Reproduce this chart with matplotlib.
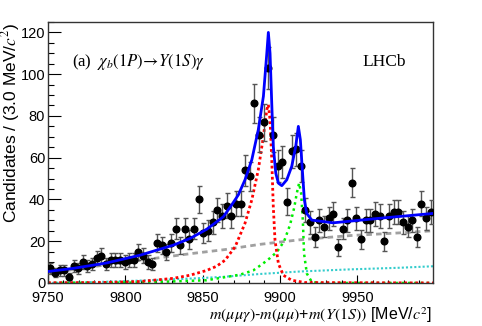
import numpy as np
import matplotlib
matplotlib.use("Agg")
import matplotlib.pyplot as plt
from matplotlib.ticker import MultipleLocator

plt.rcParams['mathtext.fontset'] = 'stix'

# ---------------- data ----------------
bin_width = 3.0
first_center = 9751.5
counts = [7, 5, 6, 6, 3, 8, 7, 10, 8, 9,
          12, 13, 9, 11, 11, 11, 10, 11, 11, 15,
          13, 10, 9, 19, 18, 15, 19, 26, 18, 26,
          21, 26, 40, 24, 25, 29, 35, 32, 37, 32,
          38, 38, 54, 51, 86, 71, 77, 103, 71, 56,
          58, 39, 63, 64, 56, 35, 29, 22, 30, 27,
          31, 33, 17, 26, 30, 48, 31, 21, 30, 30,
          33, 32, 20, 32, 34, 34, 29, 27, 30, 22,
          38, 31, 34]

total_m = [9750, 9766.4, 9788, 9809.5, 9831, 9841.8, 9852.6, 9863.4, 9868.8, 9873.1,
           9877.4, 9881.8, 9886, 9889.3, 9891.5, 9892.5, 9893.6, 9894.7, 9895.7, 9897.3,
           9899, 9901.2, 9904.4, 9907.6, 9910.2, 9911.9, 9913.2, 9914.5, 9915.8, 9917.3,
           9920.6, 9929.2, 9934.3, 9964.7, 9999]
total_y = [5.5, 7, 9.6, 13.3, 18.1, 21.3, 25.7, 31.7, 37.4, 42.2,
           49.4, 59, 73.4, 89.4, 110, 120, 110, 86, 65.4, 52.6,
           47.8, 46.6, 49.4, 55.8, 65.4, 75, 68.6, 54, 39.8, 33.3,
           30.1, 29.3, 28.8, 31, 33.3]

red_m = [9750, 9783.6, 9809.5, 9830.9, 9841.8, 9852.6, 9859, 9864.5, 9871, 9877.4,
         9881.8, 9886, 9889.3, 9891.5, 9892.5, 9893.6, 9894.7, 9895.7, 9896.8, 9899,
         9902.2, 9907.6, 9916.2, 9999]
red_y = [0.1, 0.2, 0.7, 2.2, 3.7, 6, 8, 10.9, 17.3, 28.6,
         39.8, 54.2, 70.2, 83, 85.4, 78.2, 59, 36.5, 20.5, 9.3,
         3.7, 1.3, 0.2, 0]

green_m = [9750, 9809.5, 9852.6, 9874.3, 9882.7, 9888.5, 9893.7, 9898.2, 9902.7, 9906.6,
           9909.2, 9910.9, 9912.4, 9913.7, 9914.8, 9915.6, 9917.4, 9920.6, 9926, 9999]
green_y = [0, 0.2, 1.3, 4, 6, 9, 12, 15, 20, 28,
           36, 43, 47.8, 43, 30, 14, 4.5, 0.5, 0, 0]

gray_m = [9750, 9770.7, 9788.2, 9816, 9841.8, 9864.5, 9887.1, 9913, 9945.3, 9977.7, 9999]
gray_y = [4.5, 7, 8.7, 11.5, 14, 16, 18.5, 20.7, 22.7, 24, 25]

cyan_m = [9750, 9783.6, 9816, 9848, 9864.5, 9887, 9913, 9945, 9978, 9999]
cyan_y = [0, 0.5, 1.3, 2.3, 3, 4.3, 5.5, 6.5, 7.3, 8]

# ---------------- plot ----------------
fig = plt.figure(figsize=(4.82, 3.26), dpi=100)
ax = fig.add_axes([0.0996, 0.132, 0.7988, 0.8006])

ax.plot(gray_m, gray_y, color='#a0a0a0', lw=2.0, ls=(0, (2, 1.5)), zorder=2)
ax.plot(cyan_m, cyan_y, color='#33cccc', lw=1.5, ls=(0, (1, 1)), zorder=2)
ax.plot(green_m, green_y, color='#00ee00', lw=1.8, ls=(0, (1, 1.5)), zorder=2)
ax.plot(red_m, red_y, color='#ff0000', lw=2.0, ls=(0, (1, 1)), zorder=2)

centers = first_center + bin_width * np.arange(len(counts))
errs = np.sqrt(np.array(counts, dtype=float))
ax.errorbar(centers, counts, yerr=errs, fmt='o', color='black', ms=4.8,
            ecolor='#555555', elinewidth=1.0, capsize=1.8, capthick=1.0, zorder=3)

ax.plot(total_m, total_y, color='#0000ff', lw=2.0, zorder=4)

ax.set_xlim(9750, 9999)
ax.set_ylim(0, 125)
ax.xaxis.set_major_locator(MultipleLocator(50))
ax.xaxis.set_minor_locator(MultipleLocator(10))
ax.yaxis.set_major_locator(MultipleLocator(20))
ax.yaxis.set_minor_locator(MultipleLocator(5))
ax.tick_params(axis='x', which='major', direction='in', length=6, width=0.8,
               top=False, labelsize=10.5, pad=5.5)
ax.tick_params(axis='x', which='minor', direction='in', length=2.5, width=0.8, top=False)
ax.tick_params(axis='y', which='major', direction='in', length=9, width=0.8,
               right=False, labelsize=10.5, pad=2)
ax.tick_params(axis='y', which='minor', direction='in', length=4.5, width=0.8, right=False)
for lab in ax.get_xticklabels() + ax.get_yticklabels():
    lab.set_family('Liberation Sans')
for sp in ax.spines.values():
    sp.set_color('#333333')
    sp.set_linewidth(1.0)

fig.text(11 / 482, 1 - 123 / 326, r'Candidates / (3.0 MeV/$\mathit{c}^{2}$)',
         rotation=90, ha='center', va='center', fontsize=12.5, family='Liberation Sans')
fig.text(432 / 482, 1 - 315 / 326,
         r'$m(\mu\mu\gamma)$-$m(\mu\mu)$+$m(Y(\mathit{1S}))$ [MeV/$\mathit{c}^{2}$]',
         ha='right', va='center', fontsize=11.5, family='Liberation Sans')
fig.text(72 / 482, 1 - 66 / 326,
         r'(a)  $\chi_{b}(\mathit{1P})\!\rightarrow\! Y(\mathit{1S})\gamma$',
         ha='left', va='baseline', fontsize=12, family='Liberation Serif')
fig.text(384 / 482, 1 - 66 / 326, 'LHCb', ha='center', va='baseline',
         fontsize=12.5, family='Liberation Serif')

fig.savefig('out.png', dpi=100)
